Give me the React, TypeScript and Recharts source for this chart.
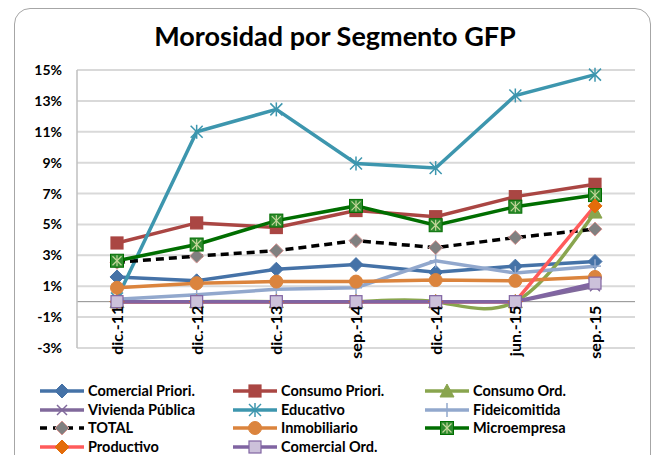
import React from 'react';
import { LineChart, Line, XAxis, YAxis, CartesianGrid, ReferenceLine } from 'recharts';

const categories = ['dic.-11', 'dic.-12', 'dic.-13', 'sep.-14', 'dic.-14', 'jun.-15', 'sep.-15'];

// valores en %
const comercialPriori = [1.6, 1.35, 2.1, 2.4, 1.9, 2.3, 2.6];
const consumoPriori = [3.8, 5.1, 4.8, 5.9, 5.5, 6.8, 7.6];
const consumoOrd = [0, 0, 0, 0, 0, 0, 5.8];
const viviendaPublica = [0, 0, 0, 0, 0, 0, 1.0];
const educativo = [0.2, 11.0, 12.45, 8.95, 8.65, 13.35, 14.7];
const fideicomitida = [0.15, 0.45, 0.8, 0.9, 2.65, 1.85, 2.3];
const total = [2.55, 2.95, 3.3, 3.95, 3.5, 4.15, 4.7];
const inmobiliario = [0.9, 1.2, 1.3, 1.3, 1.4, 1.35, 1.6];
const microempresa = [2.65, 3.7, 5.25, 6.2, 4.95, 6.15, 6.9];
const productivo = [0, 0, 0, 0, 0, 0, 6.2];
const comercialOrd = [0, 0, 0, 0, 0, 0, 1.2];

const yTicks = [-3, -1, 1, 3, 5, 7, 9, 11, 13, 15];

type Marker = 'diamond' | 'square' | 'triangle' | 'x' | 'star' | 'plus' | 'circle' | 'micro';

type Serie = {
  name: string;
  key: string;
  values: number[];
  color: string;
  marker: Marker;
  fill: string;
  edge: string;
  dash?: string;
  curve?: 'linear' | 'natural';
};

const series: Serie[] = [
  { name: 'Comercial Priori.', key: 'cp', values: comercialPriori, color: '#4572A7', marker: 'diamond', fill: '#4572A7', edge: '#4572A7' },
  { name: 'Consumo Priori.', key: 'csp', values: consumoPriori, color: '#AA4643', marker: 'square', fill: '#AA4643', edge: '#AA4643' },
  { name: 'Consumo Ord.', key: 'co', values: consumoOrd, color: '#89A54E', marker: 'triangle', fill: '#89A54E', edge: '#89A54E', curve: 'natural' },
  { name: 'Vivienda Pública', key: 'vp', values: viviendaPublica, color: '#80699B', marker: 'x', fill: 'none', edge: '#80699B' },
  { name: 'Educativo', key: 'ed', values: educativo, color: '#3D96AE', marker: 'star', fill: 'none', edge: '#3D96AE' },
  { name: 'Fideicomitida', key: 'fi', values: fideicomitida, color: '#92A8CD', marker: 'plus', fill: 'none', edge: '#92A8CD' },
  { name: 'TOTAL', key: 'to', values: total, color: '#000000', marker: 'diamond', fill: '#808080', edge: '#D99694', dash: '8 5' },
  { name: 'Inmobiliario', key: 'in', values: inmobiliario, color: '#DB843D', marker: 'circle', fill: '#DB843D', edge: '#DB843D' },
  { name: 'Microempresa', key: 'mi', values: microempresa, color: '#006E00', marker: 'micro', fill: '#2E8B2E', edge: '#C4D79B' },
  { name: 'Productivo', key: 'pr', values: productivo, color: '#FF5B5B', marker: 'diamond', fill: '#E46C0A', edge: '#E46C0A' },
  { name: 'Comercial Ord.', key: 'cord', values: comercialOrd, color: '#8064A2', marker: 'square', fill: '#CCC1DA', edge: '#8064A2' },
];

const data = categories.map((c, i) => {
  const row: Record<string, string | number> = { cat: c };
  series.forEach((s) => {
    row[s.key] = s.values[i];
  });
  return row;
});

const FONT = 'Lato, "Open Sans", sans-serif';
const W = 658;
const H = 455;
const TOP = 70;
const BOTTOM = 77;
const X_H = 30;
const PLOT_H = H - TOP - BOTTOM - X_H;

function MarkerShape({ kind, cx, cy, fill, edge }: { kind: Marker; cx: number; cy: number; fill: string; edge: string }) {
  switch (kind) {
    case 'diamond':
      return <polygon points={`${cx},${cy - 7} ${cx + 7},${cy} ${cx},${cy + 7} ${cx - 7},${cy}`} fill={fill} stroke={edge} strokeWidth={1} />;
    case 'square':
      return <rect x={cx - 6} y={cy - 6} width={12} height={12} fill={fill} stroke={edge} strokeWidth={1.2} />;
    case 'triangle':
      return <polygon points={`${cx},${cy - 7} ${cx + 7},${cy + 6} ${cx - 7},${cy + 6}`} fill={fill} stroke={edge} strokeWidth={1} />;
    case 'x':
      return (
        <g stroke={edge} strokeWidth={1.5}>
          <line x1={cx - 5} y1={cy - 5} x2={cx + 5} y2={cy + 5} />
          <line x1={cx - 5} y1={cy + 5} x2={cx + 5} y2={cy - 5} />
        </g>
      );
    case 'star':
      return (
        <g stroke={edge} strokeWidth={1.5}>
          <line x1={cx - 6} y1={cy - 6} x2={cx + 6} y2={cy + 6} />
          <line x1={cx - 6} y1={cy + 6} x2={cx + 6} y2={cy - 6} />
          <line x1={cx} y1={cy - 7} x2={cx} y2={cy + 7} />
        </g>
      );
    case 'plus':
      return (
        <g stroke={edge} strokeWidth={1.5}>
          <line x1={cx - 6} y1={cy} x2={cx + 6} y2={cy} />
          <line x1={cx} y1={cy - 7} x2={cx} y2={cy + 7} />
        </g>
      );
    case 'circle':
      return <circle cx={cx} cy={cy} r={6.5} fill={fill} stroke={edge} />;
    case 'micro':
      return (
        <g>
          <rect x={cx - 6.5} y={cy - 6.5} width={13} height={13} fill={fill} stroke="#006E00" strokeWidth={1} />
          <g stroke={edge} strokeWidth={1.2}>
            <line x1={cx - 4.5} y1={cy - 4.5} x2={cx + 4.5} y2={cy + 4.5} />
            <line x1={cx - 4.5} y1={cy + 4.5} x2={cx + 4.5} y2={cy - 4.5} />
            <line x1={cx} y1={cy - 5.5} x2={cx} y2={cy + 5.5} />
          </g>
        </g>
      );
  }
  return null;
}

const makeDot = (s: Serie) => (p: any) => {
  if (p.cx == null || p.cy == null) return <g key={p.key} />;
  return (
    <g key={p.key}>
      <MarkerShape kind={s.marker} cx={p.cx} cy={p.cy} fill={s.fill} edge={s.edge} />
    </g>
  );
};

// etiquetas del eje X junto a la línea de 0%
const zeroY = TOP + (PLOT_H * 15) / 18;

const renderXTick = (p: any) => {
  const x = p.x;
  const y = zeroY + 4;
  return (
    <text
      key={p.index}
      x={x}
      y={y}
      dy={6}
      transform={`rotate(-90 ${x} ${y})`}
      textAnchor="end"
      fontFamily={FONT}
      fontWeight={700}
      fontSize={16}
      fill="#000"
    >
      {p.payload.value}
    </text>
  );
};

function LegendIcon({ s }: { s: Serie }) {
  return (
    <svg width={44} height={14} style={{ display: 'block' }}>
      <line x1={0} y1={7} x2={44} y2={7} stroke={s.color} strokeWidth={3.5} strokeDasharray={s.dash ? '7 6' : undefined} />
      <MarkerShape kind={s.marker} cx={22} cy={7} fill={s.fill} edge={s.edge} />
    </svg>
  );
}

const legendCols = [40, 233, 425];

export default function App() {
  return (
    <div style={{ position: 'absolute', left: 0, top: 0, width: W, height: H, background: '#fff', overflow: 'hidden', fontFamily: FONT }}>
      <div
        style={{
          position: 'absolute',
          left: 14,
          top: 8,
          width: 635,
          height: 480,
          border: '1px solid #a6a6a6',
          borderRadius: 16,
        }}
      />
      <div
        style={{
          position: 'absolute',
          left: 0,
          width: W,
          top: 19,
          textAlign: 'center',
          fontSize: 27,
          fontWeight: 700,
          color: '#000',
          paddingLeft: 12,
          boxSizing: 'border-box',
        }}
      >
        Morosidad por Segmento GFP
      </div>
      <div style={{ position: 'absolute', left: 0, top: 0 }}>
        <LineChart width={W} height={H} data={data} margin={{ top: TOP, right: 23, bottom: BOTTOM, left: 0 }}>
          <CartesianGrid vertical={false} stroke="#d9d9d9" strokeWidth={2} />
          <XAxis
            dataKey="cat"
            height={X_H}
            axisLine={false}
            tickLine={false}
            interval={0}
            padding={{ left: 40, right: 40 }}
            tick={renderXTick}
          />
          <YAxis
            width={77}
            domain={[-3, 15]}
            ticks={yTicks}
            interval={0}
            axisLine={{ stroke: '#bfbfbf', strokeWidth: 1.5 }}
            tickLine={false}
            tickMargin={9}
            tickFormatter={(v: number) => `${v}%`}
            tick={{ fontFamily: FONT, fontWeight: 700, fontSize: 14, fill: '#000' }}
          />
          <ReferenceLine y={0} stroke="#8c8c8c" strokeWidth={1} />
          {series.map((s) => (
            <Line
              key={s.key}
              dataKey={s.key}
              name={s.name}
              type={s.curve ?? 'linear'}
              stroke={s.color}
              strokeWidth={3.5}
              strokeDasharray={s.dash}
              dot={makeDot(s)}
              activeDot={false}
              isAnimationActive={false}
            />
          ))}
        </LineChart>
      </div>
      {series.map((s, i) => {
        const col = i % 3;
        const row = Math.floor(i / 3);
        return (
          <div
            key={s.key}
            style={{
              position: 'absolute',
              left: legendCols[col],
              top: 384 + row * 18.5,
              display: 'flex',
              alignItems: 'center',
              gap: 4,
              fontSize: 14.5,
              fontWeight: 700,
              lineHeight: '14px',
              whiteSpace: 'nowrap',
              color: '#000',
            }}
          >
            <LegendIcon s={s} />
            <span>{s.name}</span>
          </div>
        );
      })}
    </div>
  );
}
